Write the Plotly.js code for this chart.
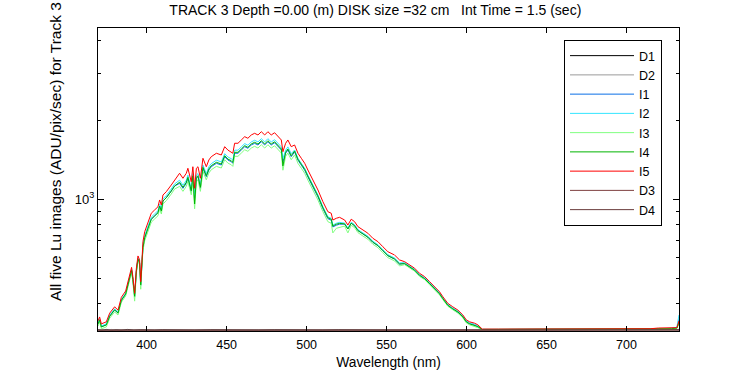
<!DOCTYPE html>
<html>
<head>
<meta charset="utf-8">
<script src="https://cdn.plot.ly/plotly-3.0.1.min.js"></script>
<style>html,body{margin:0;padding:0;background:#fff;}#chart{width:750px;height:375px;}</style>
</head>
<body>
<div id="chart"></div>
<script>
// Wavelength grid (nm) for the five image spectra
const wavelength = [369.7,370.6,371.7,374.8,376.9,380.0,382.1,384.2,386.9,388.9,
390.6,391.4,392.5,393.6,394.6,395.6,396.3,397.1,397.7,398.8,
400.8,402.9,405.0,407.1,408.1,409.2,410.2,412.3,415.4,417.5,
420.6,422.7,424.8,425.8,427.9,428.9,430.0,431.1,432.1,433.6,
435.2,437.3,438.9,440.4,443.6,446.7,448.8,450.8,452.9,453.9,
455.0,457.1,459.2,461.3,463.3,465.4,467.5,469.6,471.7,473.8,
475.8,477.9,480.0,482.1,484.2,485.2,486.9,488.3,490.4,492.5,
494.6,496.7,498.8,500.8,503.9,507.1,510.2,513.3,515.4,516.4,
518.6,520.6,523.8,525.8,527.9,530.0,532.1,535.2,538.3,541.4,
544.6,547.7,550.8,555.0,558.1,561.3,564.4,567.5,570.6,573.8,
576.9,580.0,583.1,585.2,588.3,591.4,594.6,597.7,599.8,601.9,
605.0,607.1,609.8,620,640,660,680,700,715,720,
728,731.5,732.8];

const I1 = [337,347,328,333,360,379,370,412,437,487,536,494,426,532,594,572,470,572,
654,714,781,839,864,890,942,903,984,1015,1074,1123,
1150,1101,1150,1202,1068,1218,1009,1202,1218,1101,1312,1218,1292,1330,1370,1350,1452,1410,1390,1370,1496,1496,1540,1585,1563,1609,1632,1609,1655,1609,1655,1609,1641,1585,1540,1390,1496,1540,1452,
1514,1408,1348,1290,1216,1114,1021,921,844,833,785,797,804,
805,772,812,793,761,737,717,686,666,637,610,592,567,
570,554,537,515,500,477,458,438,418,396,384,372,358,343,337,333,327,320,
320,320,320,320,320,321,322,323,325,350];

const I2 = [339,351,330,336,363,383,373,417,440,492,542,499,432,538,599,578,478,578,
667,727,794,855,880,905,960,919,1003,1033,1094,1144,
1182,1131,1182,1235,1097,1252,1036,1235,1252,1131,1348,1252,1328,1366,1408,1387,1491,1448,1427,1408,1537,1537,1582,1628,1605,1652,1677,1652,1700,1652,1700,1652,1685,1628,1582,1427,1537,1582,1491,
1540,1432,1370,1312,1236,1133,1038,937,858,847,798,811,817,
812,777,818,801,767,744,724,693,672,643,616,598,573,
574,558,542,518,503,482,461,441,422,398,386,376,360,345,339,335,330,320,
320,320,320,320,320,321,322,323,326,363];

const I3 = [330,342,322,327,353,373,363,406,429,479,527,486,410,523,583,563,455,563,
638,696,760,818,842,866,918,879,959,988,1047,1094,
1120,1072,1120,1170,1040,1186,920,1170,1186,1072,1277,1186,1259,1295,1334,1315,1414,1373,1353,1334,1457,1457,1499,1543,1522,1566,1590,1566,1612,1566,1612,1566,1598,1543,1499,1290,1457,1499,1414,
1474,1370,1312,1256,1183,1085,994,897,822,811,745,776,782,
791,745,797,780,747,725,705,675,655,626,600,583,558,
564,548,533,509,495,473,453,433,415,392,380,369,354,339,333,329,325,320,
320,320,320,320,320,320,321,322,323,335];

const I4 = [336,348,327,333,359,380,369,413,436,488,537,495,428,533,593,573,473,573,
655,715,780,840,865,889,943,902,985,1014,1075,1124,
1161,1111,1161,1212,1077,1229,960,1212,1229,1111,1323,1229,1304,1342,1382,1362,1465,1422,1402,1382,1509,1509,1553,1599,1576,1623,1647,1623,1670,1623,1670,1623,1655,1599,1553,1340,1509,1553,1465,
1527,1420,1359,1301,1226,1124,1030,929,851,840,791,804,810,
806,771,811,794,760,738,718,687,667,638,611,593,568,
569,553,538,514,499,478,457,437,419,395,383,373,357,342,336,332,328,320,
320,320,320,320,320,321,322,322,324,340];

const I5 = [345,357,336,342,369,390,379,424,448,501,551,508,439,547,609,588,486,588,
690,753,822,885,911,937,994,951,1038,1069,1133,1184,
1256,1202,1256,1312,1166,1330,1101,1312,1330,1202,1432,1330,1411,1452,1496,1474,1585,1539,1517,1496,1633,1633,1681,1730,1706,1756,1782,1756,1807,1756,1807,1756,1791,1730,1681,1517,1633,1681,1585,
1609,1496,1432,1371,1292,1184,1085,979,897,885,834,847,854,
834,798,840,822,787,764,743,711,690,660,632,614,588,
579,563,547,523,508,486,465,445,426,402,390,379,363,348,342,338,333,321,
321,321,321,321,321,322,324,324,325,345];

// Wavelength grid (nm) for the dark images
const darkWavelength = [369.7,372,375,378,381,384,388,392,396,400,405,410,420,430,440,450,460,470,480,490,500,510,520,530,540,550,560,570,580,590,600,620,640,660,680,700,710,720,725,730,732.8];
const D1 = [319,318,320,318,319,318,320,318,319,318,318,319,318,318,319,318,318,318,319,318,318,318,319,318,318,318,318,319,318,318,318,318,318,318,318,318,318,319,318,319,320];
const D2 = [318,319,318,320,318,319,318,318,320,318,319,318,318,319,318,318,319,318,318,318,319,318,318,318,319,318,318,318,318,319,318,318,318,318,318,318,319,318,320,318,319];
const D3 = [318,318,319,318,318,320,318,319,318,318,318,318,319,318,318,318,318,319,318,318,318,319,318,318,318,318,319,318,318,318,319,318,318,318,318,318,318,318,319,318,318];
const D4 = [318,318,318,319,318,318,318,318,318,319,318,318,318,318,318,319,318,318,318,318,318,318,318,319,318,318,318,318,318,318,318,318,318,318,318,318,318,318,318,318,319];

const seriesNames = ['D1','D2','I1','I2','I3','I4','I5','D3','D4'];
const seriesColors = ['#000000','#9a9a9a','#0a6fe6','#33e5ff','#80ff80','#00b400','#ff0000','#7f4040','#6a3c3c'];
const yTickVals = [1000];
const yTickText = ['10<sup>3</sup>'];
const yMinorVals = [400,500,600,700,800,900,2000,3000,4000];
const xTickVals = [400,450,500,550,600,650,700];

const seriesData = {
  D1:[darkWavelength,D1], D2:[darkWavelength,D2],
  I1:[wavelength,I1], I2:[wavelength,I2], I3:[wavelength,I3], I4:[wavelength,I4], I5:[wavelength,I5],
  D3:[darkWavelength,D3], D4:[darkWavelength,D4]
};

const traces = seriesNames.map((n,i)=>({
  type:'scatter', mode:'lines', name:n,
  x: seriesData[n][0], y: seriesData[n][1],
  line:{color:seriesColors[i], width:1},
  hoverinfo:'skip'
}));

const font = {family:'Liberation Sans, Arial, Helvetica, sans-serif', color:'#000'};

const layout = {
  width:750, height:375,
  paper_bgcolor:'#fff', plot_bgcolor:'#fff',
  margin:{l:98, r:71, t:28, b:44, pad:0},
  showlegend:true,
  font:Object.assign({size:13}, font),
  title:{text:'TRACK 3 Depth =0.00 (m) DISK size =32 cm\u00a0\u00a0\u00a0Int Time = 1.5 (sec)',
    font:Object.assign({size:14}, font), x:358/750, xanchor:'center', y:1-10/375, yanchor:'middle', xref:'paper', yref:'container'},
  xaxis:{
    range:[369.6, 732.8], tickvals:xTickVals, ticks:'inside', ticklen:5, tickcolor:'#000', tickwidth:1,
    showline:true, linecolor:'#000', linewidth:1, mirror:'ticks', showgrid:false, zeroline:false,
    tickfont:Object.assign({size:12.5}, font), ticklabelstandoff:2,
    title:{text:'Wavelength (nm)', font:Object.assign({size:13.8}, font), standoff:6}
  },
  yaxis:{
    type:'log', range:[2.4992, 3.6513], tickvals:yTickVals, ticktext:yTickText,
    ticks:'inside', ticklen:6, tickcolor:'#000', tickwidth:1,
    minor:{tickvals:yMinorVals, ticks:'inside', ticklen:3, tickcolor:'#000', showgrid:false},
    showline:true, linecolor:'#000', linewidth:1, mirror:'ticks', showgrid:false, zeroline:false,
    tickfont:Object.assign({size:13}, font)
  },
  legend:{x:(564-98)/581, y:(331-40)/303, xanchor:'left', yanchor:'top',
    bgcolor:'#fff', bordercolor:'#000', borderwidth:1,
    font:Object.assign({size:12.5}, font), itemwidth:64, tracegroupgap:0},
  annotations:[{
    text:'All five Lu images (ADU/pix/sec) for Track 3', textangle:-90,
    xref:'paper', yref:'paper', x:(55-98)/581, y:(331-152)/303, xanchor:'center', yanchor:'middle',
    showarrow:false, font:Object.assign({size:15.5}, font)
  }]
};

Plotly.newPlot('chart', traces, layout, {displayModeBar:false, staticPlot:true});
</script>
</body>
</html>
